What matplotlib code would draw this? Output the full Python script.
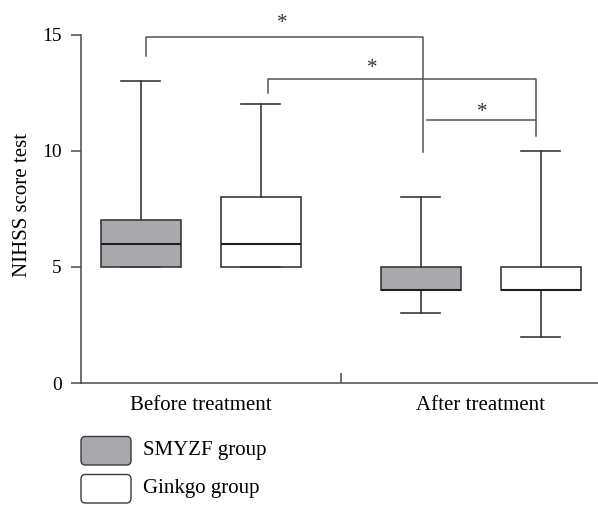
import matplotlib
matplotlib.use("Agg")
import matplotlib.pyplot as plt
from matplotlib.patches import FancyBboxPatch

# ---- data ----
groups = ["Before treatment", "After treatment"]
series = ["SMYZF group", "Ginkgo group"]
# per series, per group: (whislo, q1, med, q3, whishi)
smyzf_stats = [(5, 5, 6, 7, 13), (3, 4, 4, 5, 8)]
ginkgo_stats = [(5, 5, 6, 8, 12), (2, 4, 4, 5, 10)]
yticks = [0, 5, 10, 15]
# significance brackets: (x_left, x_right, y_top, y_left_end, y_right_end)
brackets = [(-0.196, 0.794, 14.9, 14.06, 9.94),
            (0.241, 1.1975, 13.1, 12.49, 10.62)]
bracket3 = (0.807, 1.1975, 11.31)
stars = [(0.293, 15.63), (0.612, 13.69), (1.007, 11.81)]

FONT = "Liberation Serif"
plt.rcParams["font.family"] = FONT
LC = "#4a4a4a"
FILL = "#a9a9ad"

fig = plt.figure(figsize=(5.98, 5.05), dpi=100)
W, H = 598, 505
ax = fig.add_axes([81 / W, (H - 383) / H, (598 - 81) / W, (383 - 34.5) / H])

offset = 0.2143
width = 0.2857

def mk(s, label):
    lo, q1, med, q3, hi = s
    return dict(whislo=lo, q1=q1, med=med, q3=q3, whishi=hi, fliers=[], label=label)

for stats, off, fc in [(smyzf_stats, -offset, FILL), (ginkgo_stats, offset, "white")]:
    pos = [i + off for i in range(len(groups))]
    ax.bxp([mk(s, g) for s, g in zip(stats, groups)], positions=pos, widths=width,
           patch_artist=True, showfliers=False, capwidths=0.14,
           boxprops=dict(facecolor=fc, edgecolor="#3a3a3a", linewidth=1.2),
           whiskerprops=dict(color="#3a3a3a", linewidth=1.2),
           capprops=dict(color="#3a3a3a", linewidth=1.2),
           medianprops=dict(color="#1e1e1e", linewidth=1.5))

ax.set_xlim(-0.4275, 1.419)
ax.set_ylim(0, 15)
ax.set_yticks(yticks)
ax.set_xticks(range(len(groups)))
ax.set_xticklabels(groups, fontsize=15)
ax.tick_params(axis="x", length=0, pad=9)
ax.tick_params(axis="y", length=7, width=1.1, color=LC, labelsize=14, pad=7)
ax.set_xticks([0.5], minor=True)
ax.tick_params(axis="x", which="minor", direction="in", length=7, width=1.1, color=LC)
for sp in ["top", "right"]:
    ax.spines[sp].set_visible(False)
for sp in ["left", "bottom"]:
    ax.spines[sp].set_color(LC)
    ax.spines[sp].set_linewidth(1.1)
ax.set_ylabel("NIHSS score test", fontsize=15)
ax.yaxis.set_label_coords(-0.094, 0.512)

for xl, xr, yt, yl, yr in brackets:
    ax.plot([xl, xl, xr, xr], [yl, yt, yt, yr], color="#555555", lw=1.1, clip_on=False)
x3l, x3r, y3 = bracket3
ax.plot([x3l, x3r], [y3, y3], color="#555555", lw=1.1, clip_on=False)
for sx, sy in stars:
    ax.text(sx, sy - 0.17, "*", ha="center", va="center", fontsize=15, color="#333333")

# legend
for (y0, fc, lab) in [(40, FILL, series[0]), (2, "white", series[1])]:
    p = FancyBboxPatch((0.81, y0 / 100), 0.50, 0.285,
                       boxstyle="round,pad=0,rounding_size=0.045",
                       transform=fig.dpi_scale_trans, facecolor=fc,
                       edgecolor="#3a3a3a", linewidth=1.0)
    fig.add_artist(p)
    fig.text(1.43 / 5.98, (y0 / 100 + 0.1425) / 5.05, lab, fontsize=15,
             va="center", ha="left")

fig.savefig("out.png", dpi=100)
